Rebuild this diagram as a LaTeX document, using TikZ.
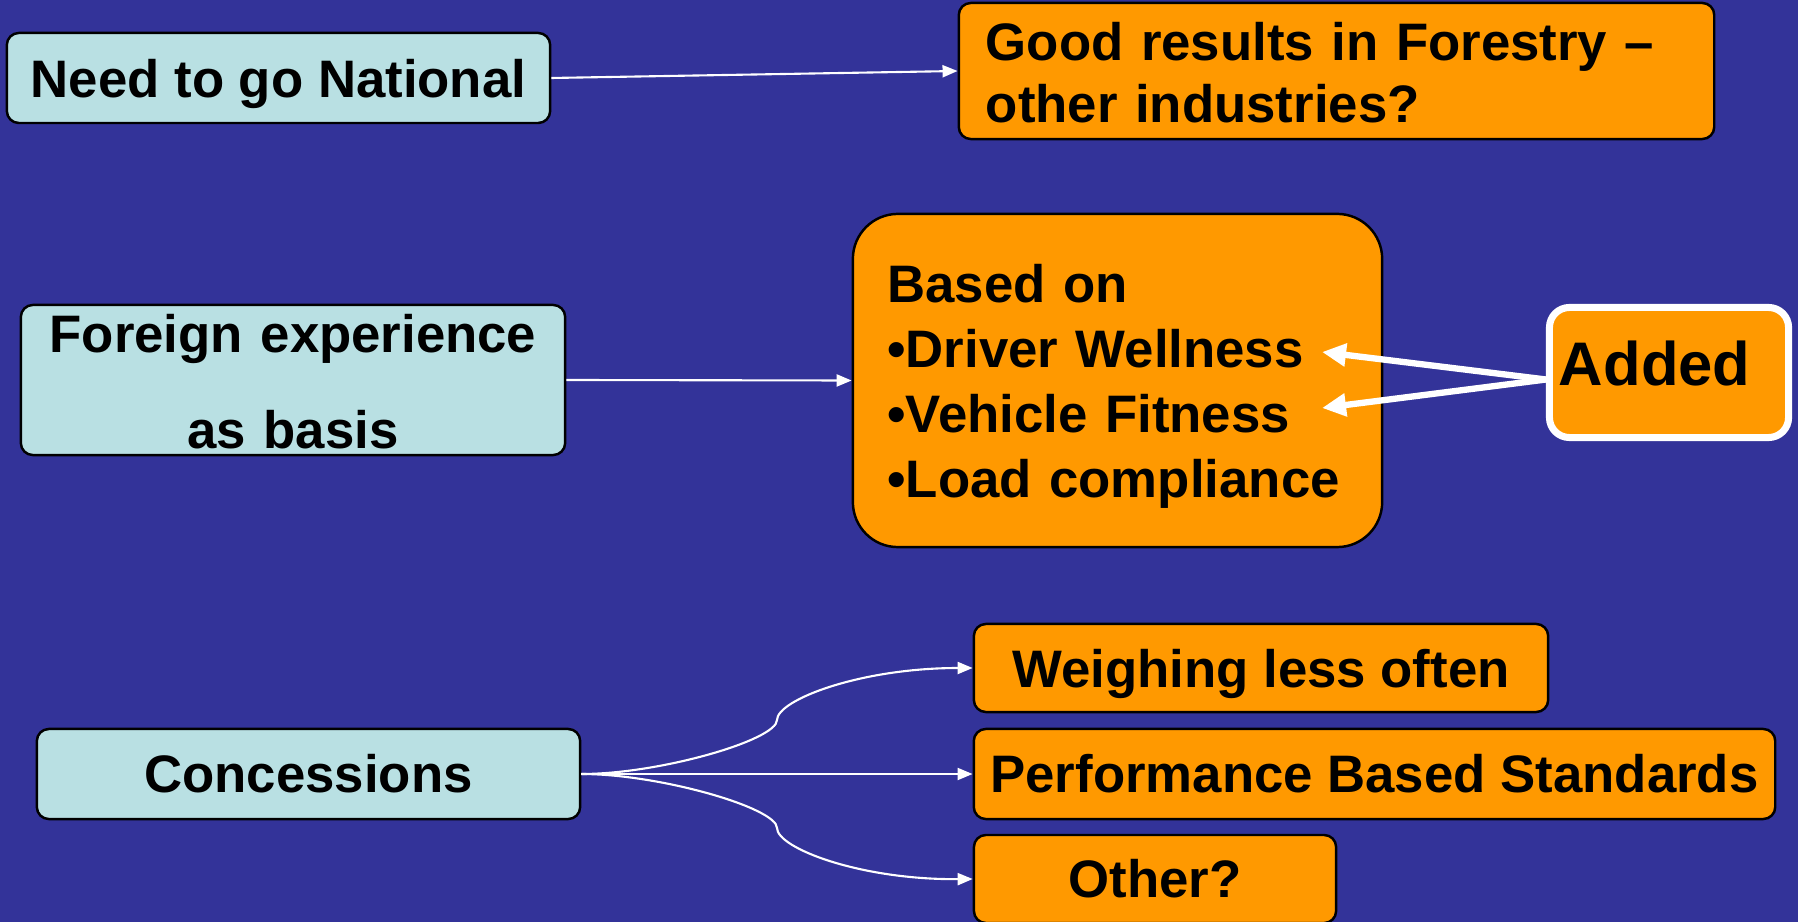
\documentclass[tikz,border=0pt]{standalone}
\usepackage{fontspec}
\setmainfont{Liberation Sans}
\usepackage{xcolor}
\usetikzlibrary{arrows.meta,positioning,calc}

\definecolor{slideblue}{RGB}{51,51,153}
\definecolor{boxorange}{RGB}{255,153,0}
\definecolor{boxcyan}{RGB}{185,224,227}

\begin{document}
\begin{tikzpicture}[
  x=0.01cm, y=-0.01cm,
  font=\fontsize{15}{18.2}\selectfont\bfseries,
  box/.style={draw,line width=0.7pt,rounded corners=0.12cm,align=center,inner sep=0pt},
  cause/.style={box,fill=boxcyan,minimum width=5.43cm,minimum height=0.9cm},
  result/.style={box,fill=boxorange,minimum height=0.88cm},
  arr/.style={-{Triangle[length=0.15cm,width=0.12cm]},white,line width=0.6pt},
  thickarr/.style={-{Triangle[length=0.24cm,width=0.22cm]},white,line width=1.8pt}
]
\useasboundingbox (0,0) rectangle (1798,922);
\fill[slideblue] (0,0) rectangle (1798,922);

\node[cause,text depth=0pt] (national) at (278.5,78) {Need to go National};
\node[box,fill=boxorange,minimum width=7.55cm,minimum height=1.36cm,text width=7.01cm,align=left,text depth=16.6pt,font=\fontsize{15}{17.6}\selectfont\bfseries] (forestry) at (1336.5,71) {Good results in Forestry --\\other industries?};

\node[cause,minimum width=5.44cm,minimum height=1.5cm,text width=5.2cm,align=center,text depth=26.5pt,font=\fontsize{15}{27.3}\selectfont\bfseries] (foreign) at (293,380) {Foreign experience\\as basis};
\node[box,fill=boxorange,rounded corners=0.45cm,minimum width=5.29cm,minimum height=3.33cm,text width=4.6cm,align=left,text depth=55.5pt,font=\fontsize{15}{18.5}\selectfont\bfseries] (basis) at (1117.5,380.5) {Based on\\\textbullet Driver Wellness\\\textbullet Vehicle Fitness\\\textbullet Load compliance};
\node[box,fill=boxorange,draw=white,line width=2pt,rounded corners=0.2cm,minimum width=2.39cm,minimum height=1.3cm,text width=2.2cm,align=left,text depth=0.18cm,font=\fontsize{17.5}{20}\selectfont\bfseries] (added) at (1669,372.5) {Added};

\node[cause] (concessions) at (308.5,774) {Concessions};
\node[result,minimum width=5.74cm,text depth=0pt] (weigh) at (1261,668) {Weighing less often};
\node[result,minimum width=8.01cm,minimum height=0.9cm] (pbs) at (1374.5,774) {Performance Based Standards};
\node[result,minimum width=3.62cm] (other) at (1155,879) {Other?};

\draw[arr] (national.east) -- (forestry.west);
\draw[arr] (foreign.east) -- (basis.west);

% the two added points inside the orange box
\coordinate (addedtip) at ($(added.west)+(0,7)$);
\coordinate (wellness) at (1322,352);
\coordinate (fitness) at (1322,408);
\draw[thickarr] (addedtip) -- (wellness);
\draw[thickarr] (addedtip) -- (fitness);

% concessions fan out
\draw[arr] (concessions.east) .. controls (660,774) and (777,740) .. (777,720)
  .. controls (777,700) and (860,668) .. (weigh.west);
\draw[arr] (concessions.east) -- (pbs.west);
\draw[arr] (concessions.east) .. controls (660,774) and (777,808) .. (777,828)
  .. controls (777,848) and (860,880) .. (other.west);
\end{tikzpicture}
\end{document}
